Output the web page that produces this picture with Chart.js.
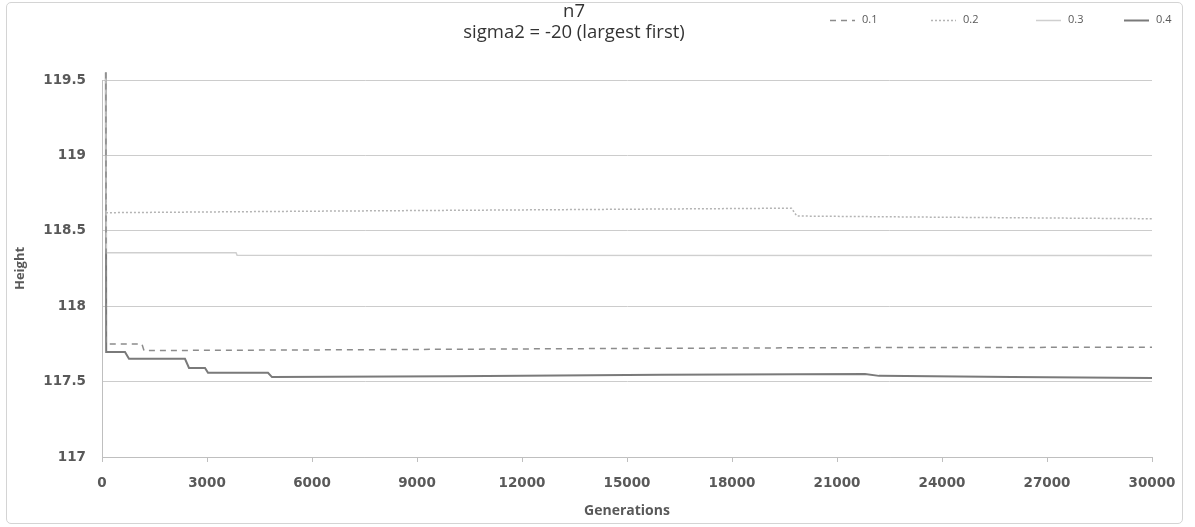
<!DOCTYPE html>
<html>
<head>
<meta charset="utf-8">
<script src="https://cdn.jsdelivr.net/npm/chart.js@4.4.1/dist/chart.umd.min.js"></script>
<style>
  html, body { margin: 0; padding: 0; background: #ffffff; }
  #wrap { position: relative; width: 1195px; height: 527px; }
  #frame { position: absolute; left: 6px; top: 2px; width: 1177px; height: 522px;
           border: 1px solid #d4d4d4; border-radius: 5px; box-sizing: border-box; }
  #c { position: absolute; left: 0; top: 0; }
</style>
</head>
<body>
<div id="wrap">
  <div id="frame"></div>
  <canvas id="c" width="1195" height="527"></canvas>
</div>
<script>
// Titles and axis names
const chartTitle = 'n7';
const chartSubtitle = 'sigma2 = -20 (largest first)';
const xAxisTitle = 'Generations';
const yAxisTitle = 'Height';
const seriesNames = ['0.1', '0.2', '0.3', '0.4'];

// Axis ranges and tick steps
const xRange = [0, 30000];
const xStep = 3000;
const yRange = [117, 119.5];
const yStep = 0.5;

// Series 0.1 (generation, height)
const gen01 = [110, 120, 1140, 1200, 6000, 15000, 21000, 30000];
const val01 = [119.55, 117.75, 117.75, 117.706, 117.71, 117.72, 117.725, 117.728];

// Series 0.2
const gen02 = [110, 120, 6000, 13000, 19700, 19850, 24000, 30000];
const val02 = [119.55, 118.62, 118.63, 118.64, 118.65, 118.598, 118.59, 118.58];

// Series 0.3
const gen03 = [110, 120, 3830, 3860, 30000];
const val03 = [119.55, 118.355, 118.355, 118.338, 118.336];

// Series 0.4
const gen04 = [110, 120, 657, 771, 2371, 2486, 2943, 3029, 4743, 4857, 10000, 16000, 21800, 22200, 26000, 30000];
const val04 = [119.55, 117.697, 117.697, 117.651, 117.651, 117.591, 117.591, 117.558, 117.558, 117.53, 117.535, 117.545, 117.55, 117.538, 117.53, 117.524];

const toPoints = (gens, vals) => gens.map((g, i) => ({ x: g, y: vals[i] }));

const FONT = "'Open Sans', 'Liberation Sans', sans-serif";
const TICK_FONT = "'DejaVu Sans', sans-serif";

// Chart title drawn above the plot
const titlePlugin = {
  id: 'topTitle',
  afterDraw(chart) {
    const ctx = chart.ctx;
    ctx.save();
    ctx.fillStyle = '#333333';
    ctx.textAlign = 'center';
    ctx.textBaseline = 'middle';
    ctx.font = `18.5px ${FONT}`;
    ctx.fillText(chartTitle, 574, 12);
    ctx.fillText(chartSubtitle, 574, 33);
    ctx.restore();
  }
};

// Line-sample key in the top right corner, styled from each dataset
const keyPlugin = {
  id: 'lineKey',
  afterDraw(chart) {
    const ctx = chart.ctx;
    const starts = [830, 931, 1036, 1124];
    const sampleLen = 25;
    const y = 20;
    ctx.save();
    chart.data.datasets.forEach((ds, i) => {
      const x0 = starts[i];
      ctx.beginPath();
      ctx.strokeStyle = ds.borderColor;
      ctx.lineWidth = ds.borderWidth;
      ctx.setLineDash(ds.borderDash || []);
      ctx.moveTo(x0, y + 0.5);
      ctx.lineTo(x0 + sampleLen, y + 0.5);
      ctx.stroke();
      ctx.setLineDash([]);
      ctx.fillStyle = '#595959';
      ctx.font = `11px ${FONT}`;
      ctx.textAlign = 'left';
      ctx.textBaseline = 'middle';
      ctx.fillText(ds.label, x0 + sampleLen + 7, y);
    });
    ctx.restore();
  }
};

new Chart(document.getElementById('c'), {
  type: 'line',
  data: {
    datasets: [
      { label: seriesNames[0], data: toPoints(gen01, val01), borderColor: '#8c8c8c', borderWidth: 1.5, borderDash: [6, 5], pointRadius: 0, clip: false },
      { label: seriesNames[1], data: toPoints(gen02, val02), borderColor: '#b4b4b4', borderWidth: 1.5, borderDash: [2, 2], pointRadius: 0, clip: false },
      { label: seriesNames[2], data: toPoints(gen03, val03), borderColor: '#cfcfcf', borderWidth: 1.5, pointRadius: 0, clip: false },
      { label: seriesNames[3], data: toPoints(gen04, val04), borderColor: '#7a7a7a', borderWidth: 2, pointRadius: 0, clip: false }
    ]
  },
  options: {
    responsive: false,
    animation: false,
    layout: { padding: { left: 0, right: 43, top: 80, bottom: 0 } },
    plugins: {
      legend: { display: false },
      title: { display: false },
      tooltip: { enabled: false }
    },
    scales: {
      x: {
        type: 'linear',
        min: xRange[0],
        max: xRange[1],
        afterFit(scale) { scale.height = 70; },
        ticks: {
          stepSize: xStep,
          color: '#595959',
          font: { family: TICK_FONT, size: 13.5, weight: 'bold' },
          padding: 13,
          maxRotation: 0,
          callback: (v) => String(v)
        },
        grid: { drawOnChartArea: false, drawTicks: true, tickLength: 5, color: '#bfbfbf' },
        border: { color: '#bfbfbf' },
        title: { display: true, text: xAxisTitle, color: '#595959', font: { family: FONT, size: 14, weight: 'bold' }, padding: { top: 0, bottom: 8 } }
      },
      y: {
        type: 'linear',
        min: yRange[0],
        max: yRange[1],
        afterFit(scale) { scale.width = 102; },
        ticks: {
          stepSize: yStep,
          color: '#595959',
          font: { family: TICK_FONT, size: 13.5, weight: 'bold' },
          padding: 16,
          callback: (v) => String(Number(v.toFixed(2)))
        },
        grid: { color: '#cccccc', drawTicks: false },
        border: { color: '#bfbfbf' },
        title: { display: true, text: yAxisTitle, color: '#595959', font: { family: FONT, size: 13, weight: 'bold' }, padding: { top: 12, bottom: 0 } }
      }
    }
  },
  plugins: [titlePlugin, keyPlugin]
});
</script>
</body>
</html>
